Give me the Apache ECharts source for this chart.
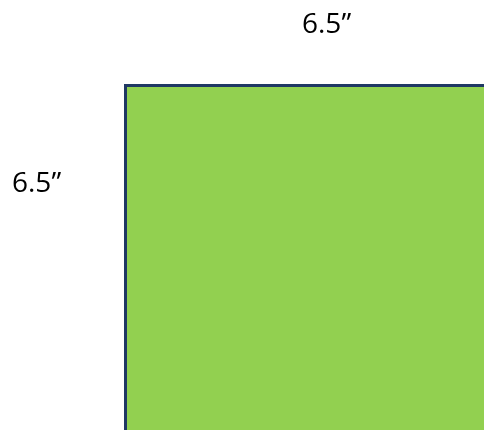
<!DOCTYPE html>
<html>
<head>
<meta charset="utf-8">
<script src="https://cdn.jsdelivr.net/npm/echarts@6/dist/echarts.min.js"></script>
<style>
html,body{margin:0;padding:0;background:#fff;}
#chart{width:484px;height:430px;}
</style>
</head>
<body>
<div id="chart"></div>
<script>
// Square dimensions (inches)
const sideWidth = 6.5;
const sideHeight = 6.5;
const widthLabel = '6.5\u201D';
const heightLabel = '6.5\u201D';
const squareData = [[0, 0, sideWidth, sideHeight]];

const chart = echarts.init(document.getElementById('chart'));
chart.setOption({
  animation: false,
  grid: { left: 125.5, top: 85.5, width: 400, height: 400, outerBoundsMode: 'none', containLabel: false },
  xAxis: { type: 'value', min: 0, max: sideWidth, show: false },
  yAxis: { type: 'value', min: 0, max: sideHeight, show: false },
  graphic: [
    { type: 'text', left: 302, top: 11, style: { text: widthLabel, font: '28px "Open Sans"', fill: '#000' } },
    { type: 'text', left: 12, top: 170, style: { text: heightLabel, font: '28px "Open Sans"', fill: '#000' } }
  ],
  series: [{
    type: 'custom',
    clip: false,
    data: squareData,
    renderItem: function (params, api) {
      const p0 = api.coord([api.value(0), api.value(3)]);
      const p1 = api.coord([api.value(2), api.value(1)]);
      return {
        type: 'rect',
        shape: { x: p0[0], y: p0[1], width: p1[0] - p0[0], height: p1[1] - p0[1] },
        style: { fill: '#92D050', stroke: '#1F3864', lineWidth: 3 }
      };
    }
  }]
});
</script>
</body>
</html>
